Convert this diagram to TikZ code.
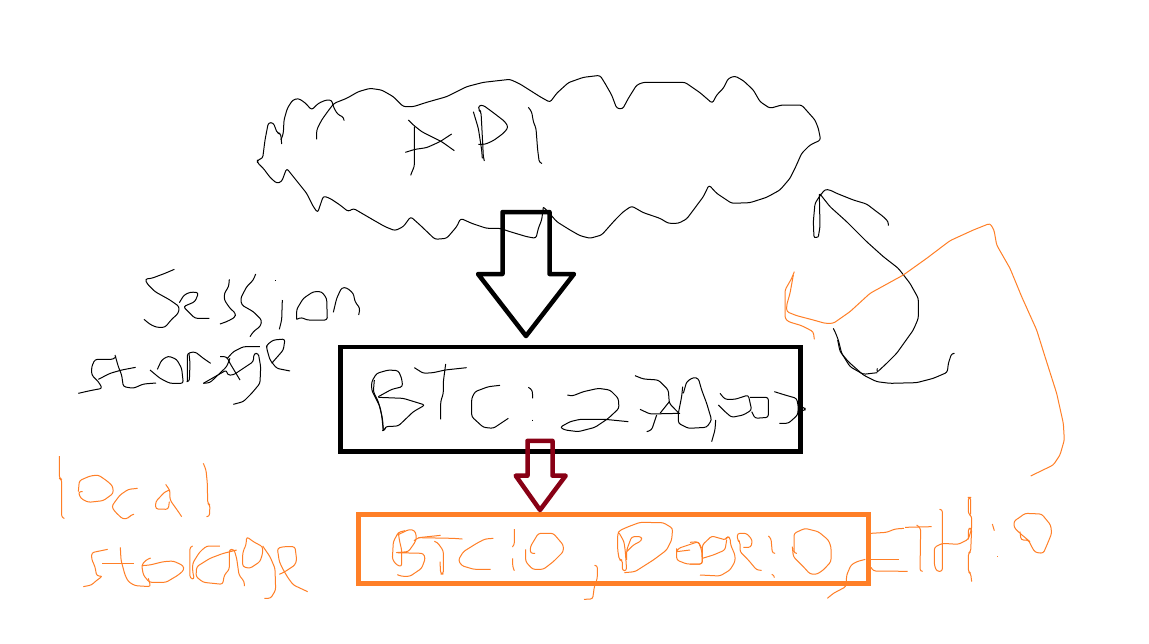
\documentclass[tikz,border=0pt]{standalone}
\definecolor{inkorange}{HTML}{FF7F27}
\definecolor{inkred}{HTML}{880015}
\tikzset{
  ink/.style={line width=1pt,black,line join=round,rounded corners=2.5pt},
  oink/.style={line width=1pt,inkorange,line join=round,rounded corners=2.5pt},
  framebox/.style={draw,inner sep=0pt,outer sep=0pt},
  blockarrow/.style={line join=round,line cap=round}
}
\newcommand{\zoomed}[3]{\begin{scope}[x=.33333pt,y=-.33333pt,shift={(#1pt,-#2pt)}]#3\end{scope}}
\begin{document}
\begin{tikzpicture}[x=1pt,y=1pt]
\useasboundingbox[fill=white] (0,0) rectangle (1149,-643);
% cloud left part
\zoomed{250}{70}{
\draw[ink] (95,222)--(92,190)--(82,190)--(70,158)--(55,158)--(45,210)--(38,265)--(22,270)--(22,278)--(40,295)--(60,322)--(80,340)--(95,335)--(110,295)--(170,370)--(190,410)--(203,428)--(220,378)--(240,385)--(270,405)--(295,425)--(310,415)--(370,450)--(405,470)--(435,482)--(460,470)--(482,440)--(510,465)--(555,508)--(590,505)--(620,470)--(632,445)--(665,460)--(710,475)--(750,475)--(780,485)--(830,500)--(858,505)--(865,475)--(875,450)--(880,412);
\draw[ink] (93,210)--(100,190)--(102,150)--(112,115)--(128,90)--(145,85)--(165,98)--(185,120)--(205,100)--(228,90)--(245,90)--(250,110)--(262,132)--(282,143)--(282,152);
\draw[ink] (200,208)--(200,180)--(215,150)--(235,122)--(252,100)--(290,85)--(325,65)--(360,55)--(395,60)--(430,80)--(460,110)--(490,110)--(530,97)--(590,80)--(650,50)--(700,37)--(780,28)--(810,42)--(870,80);
% API
\draw[ink] (475,150)--(490,165)--(515,185)--(575,215)--(613,242);
\draw[ink] (493,170)--(493,290)--(488,300)--(482,316);
\draw[ink] (466,247)--(495,238)--(530,233)--(570,215)--(605,192);
\draw[ink] (670,125)--(685,175)--(695,240)--(697,265);
\draw[ink] (703,273)--(700,260)--(697,200)--(693,125)--(686,120)--(686,106)--(700,106)--(730,128)--(765,155)--(775,172)--(760,190)--(730,212)--(705,223)--(685,223);
\draw[ink] (835,112)--(845,125)--(850,155)--(858,175)--(863,240)--(868,278)--(875,280);
}
% cloud right part
\zoomed{540}{70}{
\draw[ink] (0,80)--(30,97)--(50,70)--(85,38)--(130,22)--(180,16)--(195,40)--(215,75)--(230,115)--(248,117)--(265,85)--(290,45)--(310,37)--(435,37)--(480,68)--(517,100)--(530,75)--(550,55)--(565,25)--(585,18)--(610,32)--(640,60)--(660,95)--(690,115)--(725,105)--(785,105)--(825,150)--(835,175)--(842,210)--(810,225)--(785,250)--(765,295)--(750,325)--(720,360)--(680,382)--(630,398)--(575,400)--(530,370)--(507,345)--(490,380)--(440,447)--(415,460)--(385,460)--(360,445)--(310,428)--(275,408)--(250,425)--(225,450)--(185,495)--(150,505)--(120,497)--(90,480)--(50,455)--(20,420)--(10,412);
}
% Session storage
\zoomed{70}{260}{
\draw[ink] (313,28)--(285,40)--(245,55)--(225,57)--(232,72)--(255,95)--(300,120)--(328,140)--(325,160)--(305,178)--(285,202)--(260,202)--(240,193)--(222,178);
\draw[ink] (328,128)--(342,105)--(362,96)--(386,98)--(375,125)--(340,140)--(360,160)--(375,175)--(418,175);
\draw[ink] (478,58)--(476,80)--(463,100)--(463,120)--(480,145)--(497,160)--(495,172)--(470,185)--(450,192);
\draw[ink] (557,42)--(550,60)--(530,80)--(512,115)--(515,135)--(550,155)--(575,180)--(572,198)--(550,215)--(540,230);
\draw[ink] (615,60)--(617,60);
\draw[ink] (637,120)--(635,180)--(628,208);
\draw[ink] (680,178)--(680,148)--(700,115)--(730,95)--(755,95)--(770,115)--(772,180)--(710,180)--(695,172)--(680,178);
\draw[ink] (790,157)--(800,115)--(815,83)--(830,83)--(850,100)--(855,125)--(870,145)--(866,165);
\draw[ink] (25,400)--(60,392)--(97,385)--(85,365)--(65,345)--(65,320)--(75,298)--(130,298)--(138,290);
\draw[ink] (135,285)--(145,320)--(155,345)--(160,380)--(190,385)--(220,372)--(258,369);
\draw[ink] (85,358)--(120,340)--(155,330)--(197,322);
\draw[ink] (262,328)--(275,300)--(295,288)--(320,298)--(335,325)--(340,370)--(300,370)--(270,355)--(240,330);
\draw[ink] (352,365)--(352,280)--(375,275)--(400,295)--(422,310);
\draw[ink] (350,365)--(358,365)--(360,310)--(357,280);
\draw[ink] (450,290)--(470,290)--(480,310)--(510,360);
\draw[ink] (400,370)--(420,368)--(470,320)--(480,295);
\draw[ink] (400,370)--(470,330)--(472,345)--(490,345)--(550,305)--(552,280)--(565,280)--(572,320)--(570,370)--(545,400)--(520,425)--(490,433);
\draw[ink] (472,295)--(490,275)--(520,260)--(570,260);
\draw[ink] (605,310)--(640,270)--(645,237)--(610,240)--(590,255)--(590,265)--(600,300)--(620,325)--(660,333);
}
% boxes
\node[framebox,line width=4.5pt,minimum width=460.2pt,minimum height=104.5pt] (btcbox) at (570.4,-399.25) {};
\node[framebox,inkorange,line width=5pt,minimum width=509.6pt,minimum height=69.2pt] (coinbox) at (613.5,-548.9) {};
% block arrows
\draw[blockarrow,line width=4.5pt] (502.5,-212)--(549.5,-212)--(549.5,-274)--(574,-274)--(526,-336)--(478,-274)--(502.5,-274)--cycle;
\draw[blockarrow,line width=4.5pt,inkred] (527.5,-440.8)--(552.5,-440.8)--(552.5,-475.7)--(565.7,-475.7)--(540,-510)--(515.7,-475.7)--(527.5,-475.7)--cycle;
% BTC: 270,000
\zoomed{335}{340}{
\draw[ink] (145,272)--(143,240)--(135,200)--(115,160)--(110,150)--(110,125)--(125,100)--(160,90)--(190,92)--(200,115)--(203,140)--(170,148)--(130,170);
\draw[ink] (130,172)--(205,175)--(270,195)--(235,215)--(190,258)--(150,260)--(150,272)--(143,272);
\draw[ink] (118,120)--(115,155)--(130,185)--(140,225)--(145,272);
\draw[ink] (238,83)--(265,100)--(295,98)--(330,90)--(395,83);
\draw[ink] (332,72)--(325,125)--(325,160)--(317,185)--(317,238);
\draw[ink] (495,136)--(460,140)--(420,155)--(410,175)--(410,230)--(445,262)--(475,265)--(505,245)--(520,235);
\draw[ink] (580,142)--(592,150)--(593,175);
\draw[ink] (593,239)--(593,243);
\draw[ink] (697,165)--(712,168)--(745,155)--(790,145)--(825,150)--(850,175)--(852,205)--(820,235)--(780,262)--(730,275)--(690,270)--(675,262)--(705,245)--(735,238)--(810,238)--(880,245);
\draw[ink] (900,107)--(925,117)--(970,120)--(1000,150)--(1003,190)--(1030,218);
\draw[ink] (1003,185)--(975,220);
\draw[ink] (915,208)--(945,222)--(1035,220);
\draw[ink] (965,225)--(950,270)--(935,275);
\draw[ink] (1043,140)--(1040,170)--(1030,220)--(1030,250)--(1060,265)--(1115,262)--(1130,240)--(1115,190)--(1100,150)--(1090,115)--(1075,112)--(1055,125)--(1045,160);
\draw[ink] (1130,305)--(1140,270)--(1142,240);
\draw[ink] (1155,160)--(1170,178)--(1200,178)--(1240,165)--(1250,210)--(1225,225)--(1190,232)--(1170,215)--(1150,195);
\draw[ink] (1245,172)--(1300,172)--(1300,232)--(1260,235)--(1250,215);
\draw[ink] (1318,155)--(1350,165)--(1385,175)--(1390,200)--(1388,225)--(1360,250)--(1333,250);
\draw[ink] (1395,200)--(1410,203)--(1410,212)--(1395,212);
}
% right black squiggle and orange line
\zoomed{770}{180}{
\draw[ink] (145,170)--(132,175)--(130,125)--(135,70)--(148,50)--(152,45)--(165,28)--(180,30)--(200,40)--(250,60)--(290,72)--(320,95)--(340,110)--(355,125)--(355,137);
\draw[ink] (148,42)--(150,140)--(145,170);
\draw[ink] (150,42)--(180,80)--(230,125)--(290,185)--(340,230)--(385,265)--(420,310)--(445,355)--(445,415)--(430,450)--(380,520)--(350,550)--(320,578)--(322,565);
\draw[ink] (322,578)--(280,583)--(240,560)--(215,520)--(205,480)--(195,455)--(190,445);
\draw[ink] (203,480)--(210,515)--(235,545)--(280,585)--(320,605)--(360,610)--(440,608)--(490,595)--(532,577)--(535,550)--(545,520)--(550,520);
\draw[oink] (133,478)--(130,455)--(95,437)--(55,425)--(45,415)--(45,330)--(65,295)--(73,275);
\draw[oink] (70,285)--(60,340)--(50,375)--(50,395)--(80,407)--(130,420)--(165,430)--(190,430)--(240,395)--(300,340)--(400,285)--(470,235)--(540,182)--(610,150)--(660,130)--(672,150)--(680,195)--(720,265)--(755,350)--(800,450)--(825,530)--(860,640)--(880,730)--(883,780)--(870,825)--(850,855)--(782,888);
}
% local storage
\zoomed{40}{450}{
\draw[oink] (58,18)--(58,85)--(65,88)--(65,203)--(72,205);
\draw[oink] (115,125)--(118,92)--(150,78)--(175,75)--(200,92)--(218,108)--(220,130)--(190,152)--(145,157)--(122,145)--(115,125)--(128,125);
\draw[oink] (293,115)--(265,118)--(240,135)--(225,155)--(215,170)--(225,185)--(248,207)--(265,205)--(272,195)--(282,193);
\draw[oink] (377,103)--(390,122)--(390,150)--(415,185)--(425,200);
\draw[oink] (390,120)--(375,125)--(347,155)--(347,177)--(385,178)--(388,155);
\draw[oink] (490,40)--(498,60)--(502,100)--(503,160)--(510,165)--(508,200)--(502,200);
\draw[oink] (203,298)--(155,308)--(155,328)--(165,350)--(170,378)--(188,378)--(165,395)--(155,405)--(130,410);
\draw[oink] (241,292)--(243,330)--(255,375)--(265,395)--(285,407)--(332,410)--(325,385);
\draw[oink] (186,340)--(282,340);
\draw[oink] (332,324)--(318,330)--(305,345)--(310,375)--(328,397)--(378,397)--(415,375)--(432,360)--(430,347)--(400,333)--(370,335)--(330,345)--(305,347);
\draw[oink] (458,288)--(450,290)--(450,385)--(463,388)--(458,365)--(458,340)--(470,320)--(480,305)--(500,288)--(540,288);
\draw[oink] (590,300)--(550,310)--(510,325)--(470,350)--(468,380)--(490,397)--(548,403)--(553,375)--(568,358)--(568,298)--(582,298)--(590,325)--(597,375)--(613,395)--(613,408);
\draw[oink] (612,298)--(608,310)--(608,350)--(630,355)--(660,335)--(668,310)--(668,290)--(640,275)--(620,260)--(618,285)--(612,298);
\draw[oink] (668,288)--(690,320)--(705,355)--(707,420)--(692,445)--(673,445);
\draw[oink] (718,373)--(735,365)--(765,345)--(770,330)--(765,290)--(730,290)--(712,295)--(718,335)--(730,360)--(745,385)--(760,405)--(803,425);
}
% BTC:0, Doge
\zoomed{350}{500}{
\draw[oink] (142,105)--(178,88)--(195,92)--(200,115)--(193,130)--(175,155)--(135,158)--(220,160)--(226,175)--(215,205)--(190,222)--(180,229)--(155,229)--(142,224);
\draw[oink] (165,92)--(145,97)--(130,125)--(127,178)--(140,195)--(155,200)--(155,150)--(148,120)--(145,97);
\draw[oink] (192,122)--(205,113)--(272,106);
\draw[oink] (205,113)--(310,115)--(337,117);
\draw[oink] (253,124)--(262,127)--(280,152)--(280,222)--(272,222)--(270,185);
\draw[oink] (430,115)--(405,117)--(380,130)--(340,155)--(325,180)--(335,197)--(372,208)--(422,208);
\draw[oink] (493,87)--(493,135)--(488,140);
\draw[oink] (488,175)--(488,200)--(493,212);
\draw[oink] (555,160)--(541,160)--(541,140)--(565,100)--(610,100)--(640,135)--(640,155)--(610,185)--(580,208)--(548,208)--(527,185)--(527,148);
\draw[oink] (735,196)--(742,196)--(742,235)--(733,260)--(728,297)--(702,298);
\draw[oink] (823,218)--(855,215)--(910,180)--(950,150)--(965,120)--(968,85)--(940,68)--(870,67)--(835,80)--(808,92)--(803,102)--(803,150)--(808,180)--(817,180)--(817,212)--(830,212)--(826,155)--(822,125)--(808,100);
\draw[oink] (830,180)--(830,150)--(845,110)--(875,110)--(875,122)--(850,135)--(830,155);
\draw[oink] (980,155)--(985,145)--(1045,125)--(1055,150)--(1057,192)--(1010,192)--(980,180)--(980,145);
\draw[oink] (980,155)--(1020,150);
}
% ETH etc
\zoomed{690}{490}{
\draw[oink] (0,222)--(37,222)--(37,165)--(65,138)--(108,150)--(110,140)--(120,142)--(122,165)--(135,195)--(135,215)--(120,240)--(90,258)--(30,255);
\draw[oink] (37,205)--(70,195)--(105,180)--(110,150);
\draw[oink] (0,157)--(25,155)--(35,175);
\draw[oink] (160,172)--(183,172)--(187,150)--(170,130)--(142,130)--(142,150)--(150,155)--(150,185)--(175,210)--(200,240)--(215,241);
\draw[oink] (235,138)--(243,145)--(247,190)--(255,190);
\draw[oink] (245,253)--(253,255)--(253,263);
\draw[oink] (318,190)--(312,190)--(312,130)--(345,115)--(385,125)--(415,150)--(423,170)--(423,215)--(400,240)--(380,253)--(360,252)--(340,230)--(310,200)--(307,170);
\draw[oink] (526,208)--(500,215)--(483,225)--(470,255)--(468,290)--(430,310)--(412,325);
\draw[oink] (543,130)--(590,127)--(615,117)--(642,115);
\draw[oink] (543,208)--(627,208);
\draw[oink] (543,232)--(550,243)--(653,244);
\draw[oink] (645,112)--(725,110);
\draw[oink] (680,105)--(692,115)--(690,244)--(698,244);
\draw[oink] (750,58)--(757,58)--(757,244)--(740,244)--(733,225)--(733,172)--(757,160)--(805,163)--(835,148)--(845,115)--(845,78)--(835,72)--(835,22)--(842,22)--(842,72);
\draw[oink] (835,148)--(835,115)--(845,115)--(842,185)--(835,190)--(835,245)--(842,250)--(845,275);
\draw[oink] (907,102)--(913,122);
\draw[oink] (922,198)--(922,201);
\draw[oink] (990,125)--(993,150)--(1015,150)--(1025,170)--(1035,187)--(1060,190)--(1075,155)--(1085,130)--(1082,105)--(1055,72)--(1005,70)--(985,85)--(972,93)--(972,112)--(990,130)--(1020,155);
}
\end{tikzpicture}
\end{document}
